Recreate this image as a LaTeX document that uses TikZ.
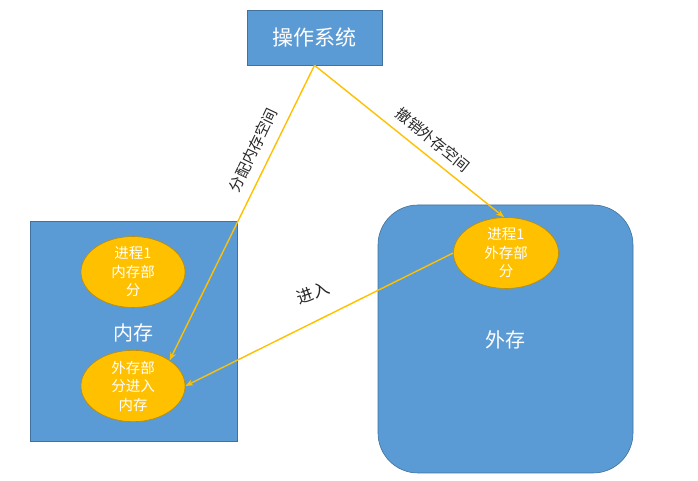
\documentclass[tikz,border=0pt]{standalone}
\usepackage{fontspec}
\setmainfont{Noto Sans CJK SC}
\usetikzlibrary{shapes.geometric,arrows.meta}
\definecolor{boxblue}{HTML}{5B9BD5}
\definecolor{boxline}{HTML}{41719C}
\definecolor{ellfill}{HTML}{FFC000}
\definecolor{ellline}{HTML}{BC8C00}
\tikzset{
  bluebox/.style={fill=boxblue,draw=boxline,line width=0.6pt},
  proc/.style={ellipse,fill=ellfill,draw=ellline,line width=0.6pt,inner sep=0pt,
    text=white,font=\fontsize{14.5}{18.5}\selectfont,align=center},
  conn/.style={draw=ellfill,line width=1.4pt,-{Stealth[length=8pt,width=6pt]}},
  lbl/.style={font=\fontsize{15}{17}\selectfont,text=black!85},
  biglbl/.style={font=\fontsize{20}{24}\selectfont,text=white}
}
\begin{document}
\begin{tikzpicture}[x=1pt,y=1pt]
\useasboundingbox (0,0) rectangle (698,481);
% operating system
\node[bluebox,minimum width=135pt,minimum height=55pt,text=white,
  font=\fontsize{21}{25}\selectfont] (os) at (314.5,443.5) {操作系统};
% memory
\path[bluebox] (30,40) rectangle (237,260);
\node[biglbl] (mem) at (133,148) {内存};
\node[proc,minimum width=104pt,minimum height=56pt] (e1) at (133,209) {进程1\\内存部\\分};
\node[proc,minimum width=104pt,minimum height=62pt] (e2) at (133,95) {外存部\\分进入\\内存};
% external storage
\path[bluebox,rounded corners=40pt] (378,8) rectangle (633,276);
\node[biglbl] (ext) at (505,141) {外存};
\node[proc,minimum width=105pt,minimum height=64pt] (e3) at (506,228) {进程1\\外存部\\分};
% connectors
\draw[conn] (os.south) -- (e2.35);
\draw[conn] (os.south) -- (e3.93);
\draw[conn] (e3.west) -- (e2.east);
% labels
\node[lbl,rotate=64.5] (l1) at (253,331) {分配内存空间};
\node[lbl,rotate=-39.2] (l2) at (433,341) {撤销外存空间};
\node[lbl,font=\fontsize{16.5}{18}\selectfont,rotate=20] (l3) at (313,188) {进入};
\end{tikzpicture}
\end{document}
